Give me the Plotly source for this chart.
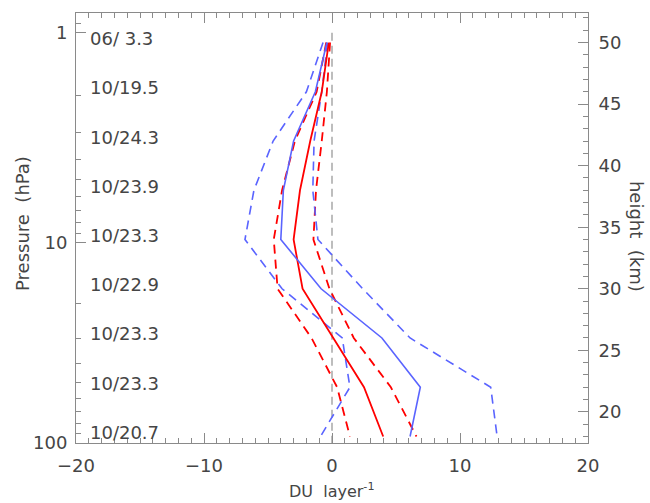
import numpy as np
import plotly.graph_objects as go

# ---------------- data ----------------
heights_km = [50, 46, 42, 38, 34, 30, 26, 22, 18]
blue_solid = [-0.4, -1.3, -3.0, -3.8, -4.0, -0.85, 3.9, 6.9, 6.1]
red_solid = [-0.25, -0.8, -1.7, -2.5, -3.0, -2.3, 0.1, 2.5, 4.0]
blue_dash_lo = [-0.7, -2.0, -4.6, -6.1, -6.8, -3.9, 0.8, 1.4, -0.9]
blue_dash_hi = [-0.35, -0.8, -1.4, -1.5, -1.1, 2.4, 6.1, 12.4, 12.9]
red_dash_lo = [-0.45, -1.2, -2.9, -3.9, -4.55, -4.25, -1.6, 0.4, 1.4]
red_dash_hi = [-0.15, -0.4, -0.8, -1.25, -1.45, -0.2, 1.7, 4.6, 6.6]
layer_labels = ["06/ 3.3", "10/19.5", "10/24.3", "10/23.9", "10/23.3",
                "10/22.9", "10/23.3", "10/23.3", "10/20.7"]

pressure_major = [1, 10, 100]
pressure_minor = [0.9, 2, 3, 4, 5, 6, 7, 8, 9, 20, 30, 40, 50, 60, 70, 80, 90]
# pressure (hPa) -> height (km) anchors of the height scale
anchor_logp = [0.0, 1.0, 2.0]
anchor_h = [50.80, 33.74, 17.47]

H_RANGE = [17.47, 52.40]
X_RANGE = [-20, 20]


def p_to_h(p):
    lp = np.log10(p)
    if lp <= 1.0:
        return anchor_h[0] + (anchor_h[1] - anchor_h[0]) * (lp - anchor_logp[0])
    return anchor_h[1] + (anchor_h[2] - anchor_h[1]) * (lp - anchor_logp[1])


BLUE = "rgb(90,100,255)"
RED = "rgb(255,0,0)"
AX = "#8a8a8a"
TXT = "#454545"
FONT = "DejaVu Sans"

fig = go.Figure()

# zero reference line (from 1 hPa to 100 hPa)
fig.add_trace(go.Scatter(x=[0, 0], y=[p_to_h(1), p_to_h(100)], mode="lines",
                         line=dict(color="#a8a8a8", width=1.5, dash="8px,5px"),
                         xaxis="x", yaxis="y", showlegend=False, hoverinfo="skip"))

dash = "9px,6px"
for xs, col, d, w in [
    (red_dash_lo, RED, dash, 1.8),
    (red_dash_hi, RED, dash, 1.8),
    (blue_dash_lo, BLUE, dash, 1.6),
    (blue_dash_hi, BLUE, dash, 1.6),
    (red_solid, RED, "solid", 1.8),
    (blue_solid, BLUE, "solid", 1.6),
]:
    fig.add_trace(go.Scatter(x=xs, y=heights_km, mode="lines",
                             line=dict(color=col, width=w, dash=d),
                             xaxis="x", yaxis="y2", showlegend=False))

annotations = []
for h, lab in zip(heights_km, layer_labels):
    annotations.append(dict(x=-19.05, y=h, xref="x", yref="y2", text=lab,
                            showarrow=False, xanchor="left", yanchor="middle",
                            yshift=4, font=dict(family=FONT, size=18, color=TXT)))

annotations.append(dict(x=0.5, y=-0.11, xref="paper", yref="paper",
                        text="DU  layer<sup>-1</sup>", showarrow=False,
                        xanchor="center", yanchor="middle",
                        font=dict(family=FONT, size=16, color=TXT)))
annotations.append(dict(x=-0.105, y=0.51, xref="paper", yref="paper",
                        text="Pressure  (hPa)", showarrow=False, textangle=-90,
                        xanchor="center", yanchor="middle",
                        font=dict(family=FONT, size=18, color=TXT)))
annotations.append(dict(x=1.095, y=0.48, xref="paper", yref="paper",
                        text="height  (km)", showarrow=False, textangle=90,
                        xanchor="center", yanchor="middle",
                        font=dict(family=FONT, size=18, color=TXT)))

fig.update_layout(
    width=650, height=503,
    margin=dict(l=76, r=62, t=13, b=60),
    plot_bgcolor="white", paper_bgcolor="white",
    font=dict(family=FONT, size=18, color=TXT),
    xaxis=dict(range=X_RANGE, tickvals=[-20, -10, 0, 10, 20],
               ticks="inside", ticklen=10, tickcolor=AX, ticklabelstandoff=6,
               minor=dict(dtick=1, ticks="inside", ticklen=5, tickcolor=AX, showgrid=False),
               showline=True, linecolor=AX, linewidth=1, mirror="ticks",
               showgrid=False, zeroline=False,
               tickfont=dict(family=FONT, size=18, color=TXT)),
    yaxis=dict(range=H_RANGE,
               tickvals=[p_to_h(p) for p in pressure_major],
               ticktext=[str(p) for p in pressure_major],
               ticks="inside", ticklen=10, tickcolor=AX, ticklabelstandoff=4,
               minor=dict(tickvals=[p_to_h(p) for p in pressure_minor],
                          ticks="inside", ticklen=5, tickcolor=AX, showgrid=False),
               showline=True, linecolor=AX, linewidth=1,
               showgrid=False, zeroline=False,
               tickfont=dict(family=FONT, size=18, color=TXT)),
    yaxis2=dict(range=H_RANGE, overlaying="y", side="right",
                tickvals=[20, 25, 30, 35, 40, 45, 50],
                ticks="inside", ticklen=10, tickcolor=AX, ticklabelstandoff=6,
                minor=dict(dtick=1, ticks="inside", ticklen=5, tickcolor=AX, showgrid=False),
                showline=True, linecolor=AX, linewidth=1,
                showgrid=False, zeroline=False,
                tickfont=dict(family=FONT, size=18, color=TXT)),
    annotations=annotations,
)

fig.write_html("out.html")
